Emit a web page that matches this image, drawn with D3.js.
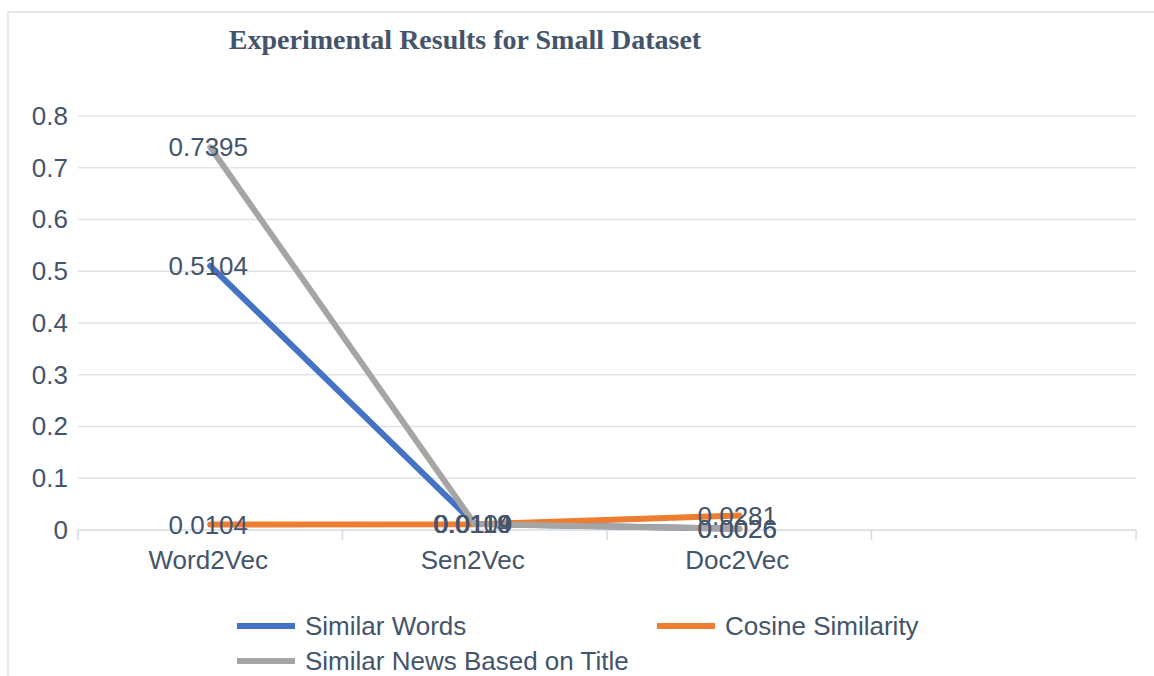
<!DOCTYPE html>
<html><head><meta charset="utf-8">
<script src="https://cdn.jsdelivr.net/npm/d3@7"></script>
<style>html,body{margin:0;padding:0;background:#fff;}svg{display:block;}</style>
</head><body>
<script>
const categories = ["Word2Vec", "Sen2Vec", "Doc2Vec", ""];
const seriesNames = ["Similar Words", "Cosine Similarity", "Similar News Based on Title"];
const similarWords = [0.5104, 0.0119, 0.0026];
const cosineSimilarity = [0.0104, 0.0109, 0.0281];
const similarNews = [0.7395, 0.0114, 0.0026];
const yTicks = [0, 0.1, 0.2, 0.3, 0.4, 0.5, 0.6, 0.7, 0.8];
const colors = ["#4472c4", "#ed7d31", "#a5a5a5"];
const title = "Experimental Results for Small Dataset";

const W = 1154, H = 676;
const textColor = "#44546a";
const gridColor = "#dfe3e8";
const font = "'Liberation Sans', Arial, sans-serif";
const fs = 26;

const svg = d3.select("body").append("svg").attr("width", W).attr("height", H);

// chart border
svg.append("rect").attr("x", 8).attr("y", 12).attr("width", 1200).attr("height", 700)
  .attr("fill", "none").attr("stroke", "#dde2e8").attr("stroke-width", 1.5);

const x = d3.scaleBand().domain(categories).range([78, 1136]).padding(0);
const y = d3.scaleLinear().domain([0, 0.8]).range([530, 116]);
const cx = c => x(c) + x.bandwidth() / 2;

// title
svg.append("text").attr("x", 465).attr("y", 49).attr("text-anchor", "middle")
  .attr("font-family", "'Liberation Serif', 'Times New Roman', serif").attr("font-weight", "bold")
  .attr("font-size", 28).attr("fill", textColor).text(title);

// gridlines
svg.append("g").selectAll("line").data(yTicks.filter(d => d > 0)).join("line")
  .attr("x1", 78).attr("x2", 1136).attr("y1", d => y(d)).attr("y2", d => y(d))
  .attr("stroke", gridColor).attr("stroke-width", 1.5);

// y axis
const yAxis = svg.append("g").attr("transform", "translate(78,0)")
  .call(d3.axisLeft(y).tickValues(yTicks).tickSize(0).tickPadding(10)
    .tickFormat(d => d === 0 ? "0" : d3.format(".1f")(d)));
yAxis.select(".domain").remove();
yAxis.selectAll("text").attr("font-family", font).attr("font-size", fs).attr("fill", textColor);

// x axis
const xAxisG = svg.append("g").attr("transform", "translate(0,530)");
xAxisG.append("line").attr("x1", 78).attr("x2", 1136).attr("y1", 0).attr("y2", 0)
  .attr("stroke", "#d6dbe1").attr("stroke-width", 1.5);
const edges = categories.map(c => x(c)).concat([x.range()[1]]);
xAxisG.selectAll("line.tk").data(edges).join("line").attr("class", "tk")
  .attr("x1", d => d).attr("x2", d => d).attr("y1", 0).attr("y2", 10)
  .attr("stroke", "#d6dbe1").attr("stroke-width", 1.5);
const xa = svg.append("g").attr("transform", "translate(-2,530)")
  .call(d3.axisBottom(x).tickSize(0).tickPadding(21));
xa.select(".domain").remove();
xa.selectAll("text").attr("font-family", font).attr("font-size", fs).attr("fill", textColor);

// lines
const series = [similarWords, cosineSimilarity, similarNews];
const line = d3.line().x((d, i) => cx(categories[i])).y(d => y(d));
svg.append("g").selectAll("path").data(series).join("path")
  .attr("d", d => line(d)).attr("fill", "none")
  .attr("stroke", (d, i) => colors[i]).attr("stroke-width", 6)
  .attr("stroke-linecap", "round").attr("stroke-linejoin", "round");

// data labels
const labels = [];
series.forEach((s, si) => s.forEach((v, i) => labels.push({ v, c: categories[i] })));
svg.append("g").selectAll("text").data(labels).join("text")
  .attr("x", d => cx(d.c) - 2).attr("y", d => y(d.v)).attr("dy", "0.35em")
  .attr("text-anchor", "middle").attr("font-family", font).attr("font-size", fs)
  .attr("fill", textColor).text(d => String(d.v));

// legend
const legendPos = [[237, 626], [657, 626], [237, 661]];
const lg = svg.append("g").selectAll("g").data(seriesNames).join("g")
  .attr("transform", (d, i) => `translate(${legendPos[i][0]},${legendPos[i][1]})`);
lg.append("line").attr("x1", 0).attr("x2", 58).attr("y1", 0).attr("y2", 0)
  .attr("stroke", (d, i) => colors[i]).attr("stroke-width", 6);
lg.append("text").attr("x", 68).attr("y", 0).attr("dy", "0.35em")
  .attr("font-family", font).attr("font-size", fs).attr("fill", textColor).text(d => d);
</script>
</body></html>
